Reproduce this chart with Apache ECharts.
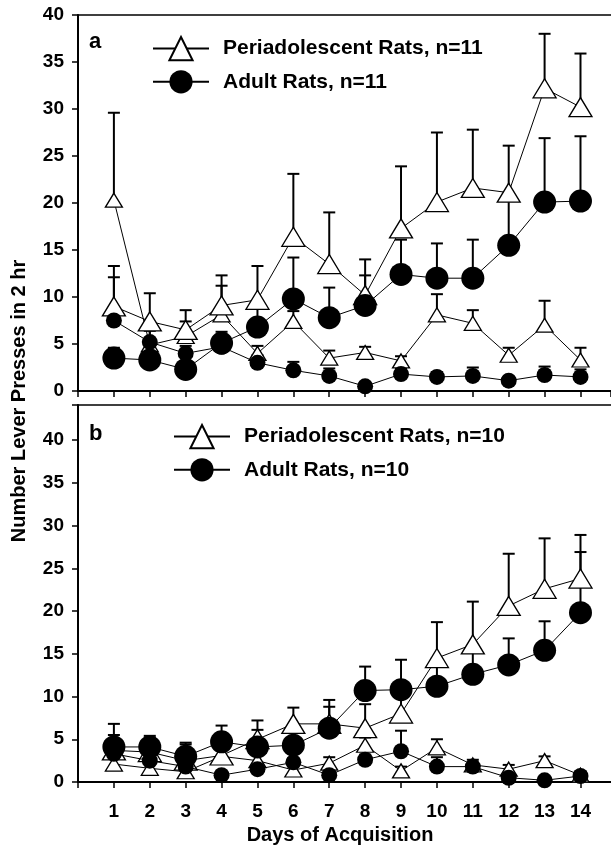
<!DOCTYPE html>
<html>
<head>
<meta charset="utf-8">
<script src="https://cdn.jsdelivr.net/npm/echarts@6/dist/echarts.min.js"></script>
<style>
html, body { margin: 0; padding: 0; background: #fff; }
#chart { width: 611px; height: 846px; }
</style>
</head>
<body>
<div id="chart"></div>
<script>
// days of acquisition
var days = [1, 2, 3, 4, 5, 6, 7, 8, 9, 10, 11, 12, 13, 14];
var yTicks = [0, 5, 10, 15, 20, 25, 30, 35, 40];

// panel a (n=11) - means and upper end of error bar
var periActA   = [9.0, 7.4, 6.5, 9.1, 9.7, 16.4, 13.5, 10.2, 17.3, 20.1, 21.6, 21.1, 32.2, 30.2];
var periActUpA = [13.3, 10.4, 8.6, 12.3, 13.3, 23.1, 19.0, 14.0, 23.9, 27.5, 27.8, 26.1, 38.0, 35.9];
var periInaA   = [20.3, 4.9, 5.8, 8.1, 4.0, 7.4, 3.5, 4.1, 3.2, 8.1, 7.2, 3.8, 7.0, 3.3];
var periInaUpA = [29.6, 6.7, 7.4, 11.2, 4.8, 8.5, 4.3, 4.7, 3.7, 10.3, 8.6, 4.6, 9.6, 4.6];
var adultActA   = [3.5, 3.3, 2.3, 5.1, 6.8, 9.8, 7.8, 9.1, 12.4, 12.0, 12.0, 15.5, 20.1, 20.2];
var adultActUpA = [4.6, 4.3, 3.2, 6.3, 9.0, 14.2, 11.0, 12.3, 16.1, 15.7, 16.1, 20.5, 26.9, 27.1];
var adultInaA   = [7.5, 5.2, 4.0, 4.7, 3.0, 2.2, 1.6, 0.5, 1.8, 1.5, 1.6, 1.1, 1.7, 1.5];
var adultInaUpA = [12.1, 6.4, 4.8, 5.6, 3.8, 3.1, 2.4, 0.9, 2.4, 2.0, 2.5, 1.5, 2.6, 2.3];

// panel b (n=10)
var periActB   = [3.7, 3.5, 2.5, 3.1, 5.0, 6.8, 6.8, 6.3, 8.0, 14.5, 16.1, 20.6, 22.6, 23.8];
var periActUpB = [5.5, 5.2, 4.4, 4.5, 7.2, 8.7, 9.6, 9.1, 10.0, 18.7, 21.1, 26.7, 28.5, 28.9];
var periInaB   = [2.1, 1.6, 1.2, 3.0, 2.5, 1.4, 2.2, 4.3, 1.3, 4.0, 2.0, 1.5, 2.5, 0.8];
var periInaUpB = [2.8, 2.2, 1.8, 3.8, 3.3, 2.0, 2.9, 5.2, 1.8, 5.0, 2.6, 2.0, 3.0, 1.2];
var adultActB   = [4.1, 4.1, 3.0, 4.7, 4.1, 4.3, 6.3, 10.7, 10.8, 11.2, 12.6, 13.7, 15.4, 19.8];
var adultActUpB = [6.8, 5.4, 4.6, 6.6, 6.1, 6.0, 8.8, 13.5, 14.3, 14.5, 15.8, 16.8, 18.8, 26.9];
var adultInaB   = [3.3, 2.5, 1.8, 0.8, 1.5, 2.3, 0.8, 2.6, 3.6, 1.8, 1.8, 0.5, 0.2, 0.7];
var adultInaUpB = [4.0, 3.0, 2.3, 1.2, 2.0, 2.8, 1.2, 3.2, 6.0, 2.9, 2.2, 0.8, 0.4, 1.1];

var FONT = '"Liberation Sans", Arial, Helvetica, sans-serif';

function pairs(vals) {
	return days.map(function (d, i) { return [d, vals[i]]; });
}

// line + symbols
function lineSeries(name, idx, vals, symbol, size, fill, z) {
	return {
		name: name,
		type: 'line',
		xAxisIndex: idx,
		yAxisIndex: idx,
		z: z,
		symbol: symbol,
		symbolSize: size,
		showAllSymbol: true,
		lineStyle: { color: '#000', width: 1 },
		itemStyle: { color: fill, borderColor: '#000', borderWidth: fill === '#000' ? 0 : 1.3, opacity: 1 },
		emphasis: { disabled: true },
		data: pairs(vals)
	};
}

// upward error bars only
function errSeries(idx, vals, ups) {
	return {
		type: 'custom',
		xAxisIndex: idx,
		yAxisIndex: idx,
		z: 1,
		silent: true,
		encode: { x: 0, y: 1 },
		renderItem: function (params, api) {
			var top = api.value(2);
			if (top == null || isNaN(top)) return;
			var p0 = api.coord([api.value(0), api.value(1)]);
			var p1 = api.coord([api.value(0), top]);
			return {
				type: 'group',
				children: [
					{ type: 'line', shape: { x1: p0[0], y1: p0[1], x2: p1[0], y2: p1[1] }, style: { stroke: '#000', lineWidth: 2 } },
					{ type: 'line', shape: { x1: p1[0] - 6, y1: p1[1], x2: p1[0] + 6, y2: p1[1] }, style: { stroke: '#000', lineWidth: 2 } }
				]
			};
		},
		data: days.map(function (d, i) { return [d, vals[i], ups[i]]; })
	};
}

function bottomAxis(idx, showLabels) {
	return {
		type: 'value',
		gridIndex: idx,
		position: 'bottom',
		min: 0,
		max: 14.85,
		interval: 1,
		splitLine: { show: false },
		axisLine: { lineStyle: { color: '#000', width: 2 } },
		axisTick: { show: true, length: 6, lineStyle: { color: '#000', width: 1.5 } },
		axisLabel: {
			show: showLabels,
			margin: 20,
			color: '#000',
			fontFamily: FONT,
			fontWeight: 'bold',
			fontSize: 19,
			showMaxLabel: false,
			formatter: function (v) { return (v >= 1 && v <= 14 && v % 1 === 0) ? String(v) : ''; }
		}
	};
}

function topAxis(idx) {
	return {
		type: 'value',
		gridIndex: idx,
		position: 'top',
		min: 0,
		max: 14.85,
		splitLine: { show: false },
		axisLine: { lineStyle: { color: '#000', width: 1.5 } },
		axisTick: { show: false },
		axisLabel: { show: false }
	};
}

function leftAxis(idx, max) {
	return {
		type: 'value',
		gridIndex: idx,
		min: 0,
		max: max,
		interval: 5,
		splitLine: { show: false },
		axisLine: { show: true, lineStyle: { color: '#000', width: 2 } },
		axisTick: { show: true, length: 6, lineStyle: { color: '#000', width: 1.5 } },
		axisLabel: {
			margin: 14,
			color: '#000',
			fontFamily: FONT,
			fontWeight: 'bold',
			fontSize: 19,
			formatter: function (v) { return yTicks.indexOf(v) >= 0 ? String(v) : ''; }
		}
	};
}

function legendFor(top, left, names) {
	return {
		orient: 'vertical',
		left: left,
		top: top,
		padding: 0,
		itemWidth: 56,
		itemHeight: 29,
		itemGap: 9,
		selectedMode: false,
		data: names,
		textStyle: { color: '#000', fontFamily: FONT, fontWeight: 'bold', fontSize: 21, padding: [0, 0, 0, 9] }
	};
}

var chart = echarts.init(document.getElementById('chart'), null, { renderer: 'canvas' });

var option = {
	animation: false,
	backgroundColor: '#fff',
	grid: [
		{ left: 78, right: 0, top: 15, height: 376 },
		{ left: 78, right: 0, top: 405, height: 377 }
	],
	xAxis: [bottomAxis(0, false), bottomAxis(1, true), topAxis(0), topAxis(1)],
	yAxis: [leftAxis(0, 40), leftAxis(1, 44.1)],
	legend: [
		legendFor(36, 152, ['Periadolescent Rats, n=11', 'Adult Rats, n=11']),
		legendFor(424, 173, ['Periadolescent Rats, n=10', 'Adult Rats, n=10'])
	],
	graphic: [
		{ type: 'text', left: 89, top: 31, style: { text: 'a', font: 'bold 22px ' + FONT, fill: '#000' } },
		{ type: 'text', left: 89, top: 423, style: { text: 'b', font: 'bold 22px ' + FONT, fill: '#000' } },
		{ type: 'text', x: 19, y: 401, rotation: Math.PI / 2,
			style: { text: 'Number Lever Presses in 2 hr', font: 'bold 20px ' + FONT, fill: '#000', align: 'center', verticalAlign: 'middle' } },
		{ type: 'text', x: 340, y: 835,
			style: { text: 'Days of Acquisition', font: 'bold 20px ' + FONT, fill: '#000', align: 'center', verticalAlign: 'middle' } }
	],
	series: [
		errSeries(0, periInaA, periInaUpA),
		errSeries(0, periActA, periActUpA),
		errSeries(0, adultInaA, adultInaUpA),
		errSeries(0, adultActA, adultActUpA),
		lineSeries('Periadolescent inactive a', 0, periInaA, 'triangle', [17, 14], '#fff', 2),
		lineSeries('Periadolescent Rats, n=11', 0, periActA, 'triangle', [23, 19], '#fff', 3),
		lineSeries('Adult inactive a', 0, adultInaA, 'circle', 16, '#000', 4),
		lineSeries('Adult Rats, n=11', 0, adultActA, 'circle', 23, '#000', 5),

		errSeries(1, periInaB, periInaUpB),
		errSeries(1, periActB, periActUpB),
		errSeries(1, adultInaB, adultInaUpB),
		errSeries(1, adultActB, adultActUpB),
		lineSeries('Periadolescent inactive b', 1, periInaB, 'triangle', [17, 14], '#fff', 2),
		lineSeries('Periadolescent Rats, n=10', 1, periActB, 'triangle', [23, 19], '#fff', 3),
		lineSeries('Adult inactive b', 1, adultInaB, 'circle', 16, '#000', 4),
		lineSeries('Adult Rats, n=10', 1, adultActB, 'circle', 23, '#000', 5)
	]
};

chart.setOption(option);
</script>
</body>
</html>
